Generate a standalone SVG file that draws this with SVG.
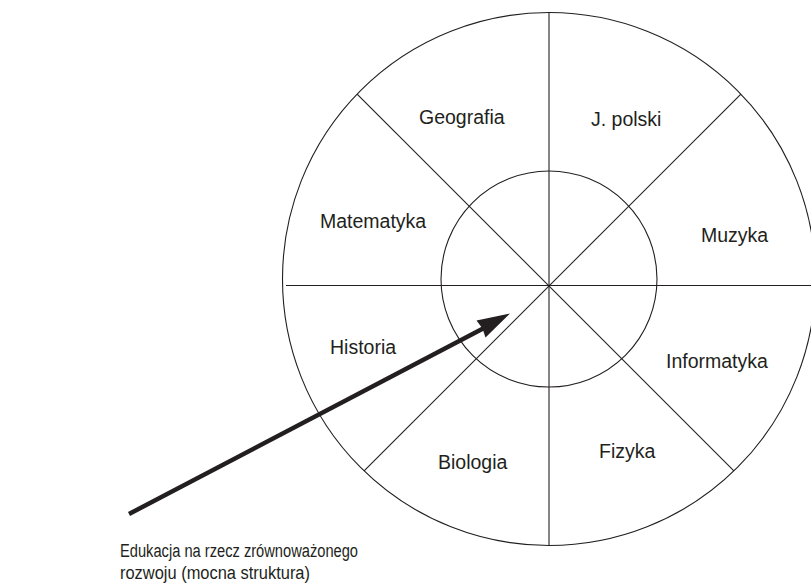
<svg xmlns="http://www.w3.org/2000/svg" width="811" height="586" viewBox="0 0 811 586">
<style>
.ln{fill:none;stroke:#231f20;stroke-width:1.1}
.lb{font-family:"Liberation Sans",Arial,sans-serif;font-size:19.5px;fill:#231f20}
.cap{font-family:"Liberation Sans",Arial,sans-serif;font-size:18px;fill:#231f20}
</style>
<rect width="811" height="586" fill="#ffffff"/>
<g id="wheel">
<circle class="ln" cx="549" cy="279" r="266.5"/>
<circle class="ln" cx="549" cy="279" r="108"/>
<line class="ln" x1="549" y1="12.5" x2="549" y2="545.5"/>
<line class="ln" x1="286" y1="285.5" x2="811" y2="285.5"/>
<line class="ln" x1="357.1" y1="94.1" x2="733.9" y2="470.9"/>
<line class="ln" x1="740.9" y1="94.1" x2="364.1" y2="470.9"/>
</g>
<g id="geografia"><text class="lb" x="419" y="124">Geografia</text></g>
<g id="jpolski"><text class="lb" x="591" y="125.5">J. polski</text></g>
<g id="matematyka"><text class="lb" x="320" y="228">Matematyka</text></g>
<g id="muzyka"><text class="lb" x="701" y="242">Muzyka</text></g>
<g id="historia"><text class="lb" x="330" y="354">Historia</text></g>
<g id="informatyka"><text class="lb" x="666" y="368">Informatyka</text></g>
<g id="biologia"><text class="lb" x="438" y="469">Biologia</text></g>
<g id="fizyka"><text class="lb" x="599" y="458">Fizyka</text></g>
<g id="connectors">
<line x1="129" y1="514" x2="485" y2="327.5" stroke="#231f20" stroke-width="4.5"/>
<polygon points="510,313.5 476.5,320.5 482.5,328.5 485.5,337.5" fill="#231f20"/>
</g>
<g id="caption">
<text class="cap" x="120" y="557" textLength="238" lengthAdjust="spacingAndGlyphs">Edukacja na rzecz zrównoważonego</text>
<text class="cap" x="120" y="579" textLength="190" lengthAdjust="spacingAndGlyphs">rozwoju (mocna struktura)</text>
</g>
</svg>
